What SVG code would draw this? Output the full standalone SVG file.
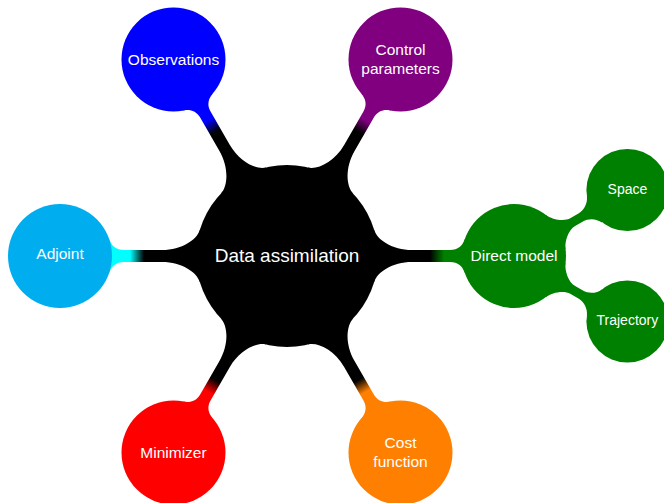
<svg xmlns="http://www.w3.org/2000/svg" xmlns:xlink="http://www.w3.org/1999/xlink" width="664" height="503" viewBox="0 0 664 503">
<style>
  .t{font-family:"Liberation Sans",Arial,Helvetica,sans-serif;fill:#ffffff;text-anchor:middle}
  .c0{font-size:19px}
  .c1{font-size:15.5px}
  .c2{font-size:14px}
</style>
<defs>
  <path id="bar1" d="M 87.2 -26 C 90.1 -16.4 105 -6 125 -6 L 163 -6 C 171 -6 175.6 -10.4 177.9 -17 L 200 0 L 177.9 17 C 175.6 10.4 171 6 163 6 L 125 6 C 105 6 90.1 16.4 87.2 26 L 60 0 Z"/>
  <path id="bar2" d="M 48 -20 C 51.1 -12.6 60 -4.5 68 -4.5 L 77 -4.5 C 84 -4.5 90.6 -9.4 92.8 -15 L 110 0 L 92.8 15 C 90.6 9.4 84 4.5 77 4.5 L 68 4.5 C 60 4.5 51.1 12.6 48 20 L 30 0 Z"/>
  <linearGradient id="gObs" gradientUnits="userSpaceOnUse" x1="143" y1="0" x2="157" y2="0"><stop offset="0" stop-color="#000"/><stop offset="1" stop-color="#0000ff"/></linearGradient>
  <linearGradient id="gCtl" gradientUnits="userSpaceOnUse" x1="143" y1="0" x2="157" y2="0"><stop offset="0" stop-color="#000"/><stop offset="1" stop-color="#800080"/></linearGradient>
  <linearGradient id="gAdj" gradientUnits="userSpaceOnUse" x1="143" y1="0" x2="157" y2="0"><stop offset="0" stop-color="#000"/><stop offset="1" stop-color="#00ffff"/></linearGradient>
  <linearGradient id="gDir" gradientUnits="userSpaceOnUse" x1="143" y1="0" x2="157" y2="0"><stop offset="0" stop-color="#000"/><stop offset="1" stop-color="#008000"/></linearGradient>
  <linearGradient id="gMin" gradientUnits="userSpaceOnUse" x1="143" y1="0" x2="157" y2="0"><stop offset="0" stop-color="#000"/><stop offset="1" stop-color="#ff0000"/></linearGradient>
  <linearGradient id="gCost" gradientUnits="userSpaceOnUse" x1="143" y1="0" x2="157" y2="0"><stop offset="0" stop-color="#000"/><stop offset="1" stop-color="#ff8000"/></linearGradient>
</defs>
<g id="connectors">
  <use href="#bar1" xlink:href="#bar1" transform="translate(287 256) rotate(-120)" fill="url(#gObs)"/>
  <use href="#bar1" xlink:href="#bar1" transform="translate(287 256) rotate(-60)" fill="url(#gCtl)"/>
  <use href="#bar1" xlink:href="#bar1" transform="translate(287 256) rotate(180)" fill="url(#gAdj)"/>
  <use href="#bar1" xlink:href="#bar1" transform="translate(287 256)" fill="url(#gDir)"/>
  <use href="#bar1" xlink:href="#bar1" transform="translate(287 256) rotate(120)" fill="url(#gMin)"/>
  <use href="#bar1" xlink:href="#bar1" transform="translate(287 256) rotate(60)" fill="url(#gCost)"/>
  <use href="#bar2" xlink:href="#bar2" transform="translate(514 256) rotate(-30)" fill="#008000"/>
  <use href="#bar2" xlink:href="#bar2" transform="translate(514 256) rotate(30)" fill="#008000"/>
</g>
<g id="node-data-assimilation">
  <circle cx="287" cy="256" r="91" fill="#000000"/>
  <text class="t c0" x="287" y="262">Data assimilation</text>
</g>
<g id="node-observations">
  <circle cx="173.5" cy="59.4" r="52" fill="#0000ff"/>
  <text class="t c1" x="173.5" y="65">Observations</text>
</g>
<g id="node-control-parameters">
  <circle cx="400.5" cy="59.4" r="52" fill="#800080"/>
  <text class="t c1" x="400.5" y="54.5">Control</text>
  <text class="t c1" x="400.5" y="73.5">parameters</text>
</g>
<g id="node-adjoint">
  <circle cx="60" cy="256" r="52" fill="#00aeef"/>
  <text class="t c1" x="60" y="259">Adjoint</text>
</g>
<g id="node-direct-model">
  <circle cx="514" cy="256" r="52" fill="#008000"/>
  <text class="t c1" x="514" y="261">Direct model</text>
</g>
<g id="node-minimizer">
  <circle cx="173.5" cy="452.6" r="52" fill="#ff0000"/>
  <text class="t c1" x="173.5" y="458">Minimizer</text>
</g>
<g id="node-cost-function">
  <circle cx="400.5" cy="452.6" r="52" fill="#ff8000"/>
  <text class="t c1" x="400.5" y="448">Cost</text>
  <text class="t c1" x="400.5" y="467">function</text>
</g>
<g id="node-space">
  <circle cx="627.4" cy="190" r="41" fill="#008000"/>
  <text class="t c2" x="627.4" y="193.5">Space</text>
</g>
<g id="node-trajectory">
  <circle cx="627.4" cy="321.5" r="41" fill="#008000"/>
  <text class="t c2" x="627.4" y="325">Trajectory</text>
</g>
</svg>
